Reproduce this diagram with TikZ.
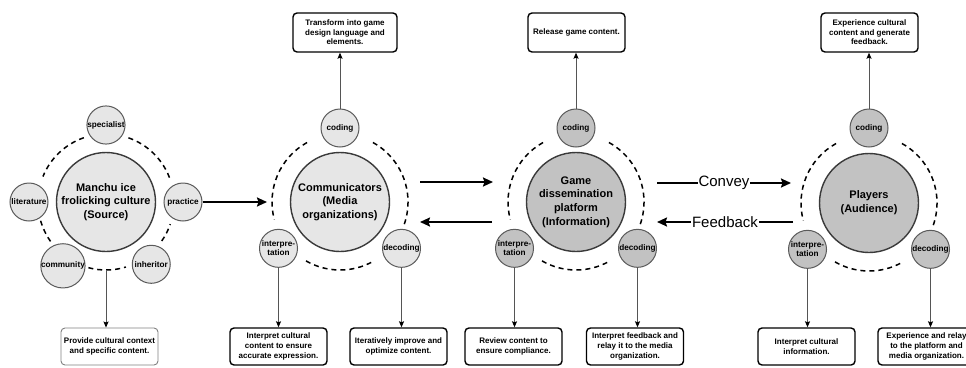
\documentclass[tikz,border=0pt]{standalone}
\usepackage{fontspec}
\setmainfont{Liberation Sans}
\usepackage{tikz}
\usetikzlibrary{arrows.meta,calc,positioning}
\definecolor{lightfill}{HTML}{E6E6E6}
\definecolor{darkfill}{HTML}{C2C2C2}
\definecolor{edgegray}{HTML}{3A3A3A}
\definecolor{satgray}{HTML}{5A5A5A}
\definecolor{linkgray}{HTML}{555555}
\tikzset{>={Stealth[length=10pt,width=9pt,inset=1.5pt]}}
\tikzstyle{core}=[
	 circle, draw=edgegray, line width=1.4pt,
	 minimum size=99pt, inner sep=0pt, align=center,
	 font=\fontsize{11}{13.8}\selectfont\bfseries
    ]
\tikzstyle{sat}=[
	 circle, draw=satgray, line width=1pt,
	 minimum size=38pt, inner sep=0pt, align=center,
	 font=\fontsize{8.2}{9.4}\selectfont\bfseries
    ]
\tikzstyle{note}=[
	 rectangle, rounded corners=4pt, draw, line width=1.4pt,
	 minimum width=97pt, minimum height=37pt, inner sep=1pt, align=center,
	 font=\fontsize{8}{9.6}\selectfont\bfseries
    ]
\tikzstyle{ring}=[dash pattern=on 5pt off 4pt, line width=1.5pt]
\tikzstyle{flow}=[->, line width=2pt]
\tikzstyle{link}=[-{Stealth[length=6pt,width=5pt,inset=1pt,color=black]}, draw=linkgray, line width=0.9pt]
\tikzstyle{lbl}=[fill=white, inner sep=1pt, font=\fontsize{15}{15}\selectfont]
\newcommand{\rArc}[3]{\draw[ring] (#1.center) ++(#2:68) arc[start angle=#2, end angle=#3, radius=68]}

\begin{document}
\begin{tikzpicture}[x=1pt,y=1pt]
\useasboundingbox (0,0) rectangle (966,-367);

\node[core,fill=lightfill] (c1) at (106,-202) {Manchu ice\\frolicking culture\\(Source)};
\node[core,fill=lightfill] (c2) at (340,-202) {Communicators\\(Media\\organizations)};
\node[core,fill=darkfill] (c3) at (576,-202) {Game\\dissemination\\platform\\(Information)};
\node[core,fill=darkfill] (c4) at (869,-203) {Players\\(Audience)};

\rArc{c1}{21}{71};
\rArc{c1}{109}{158};
\rArc{c1}{196}{217};
\rArc{c1}{255}{287};
\rArc{c1}{325}{341};
\foreach \c in {c2,c3,c4} {
  \rArc{\c}{119}{195};
  \rArc{\c}{240}{299};
  \rArc{\c}{341}{424};
}

\node[sat,fill=lightfill] (c1spe) at ([shift={(90:77)}]c1.center) {specialist};
\node[sat,fill=lightfill] (c1pra) at ([shift={(0:77)}]c1.center) {practice};
\node[sat,fill=lightfill] (c1lit) at ([shift={(180:77)}]c1.center) {literature};
\node[sat,fill=lightfill] (c1com) at ([shift={(236:77)}]c1.center) {community};
\node[sat,fill=lightfill] (c1inh) at ([shift={(306:77)}]c1.center) {inheritor};

\node[sat,fill=lightfill] (c2cod) at ([shift={(90:74)}]c2.center) {coding};
\node[sat,fill=lightfill] (c2int) at ([shift={(217:77)}]c2.center) {interpre-\\tation};
\node[sat,fill=lightfill] (c2dec) at ([shift={(323:77)}]c2.center) {decoding};
\node[sat,fill=darkfill] (c3cod) at ([shift={(90:74)}]c3.center) {coding};
\node[sat,fill=darkfill] (c3int) at ([shift={(217:77)}]c3.center) {interpre-\\tation};
\node[sat,fill=darkfill] (c3dec) at ([shift={(323:77)}]c3.center) {decoding};
\node[sat,fill=darkfill] (c4cod) at ([shift={(90:75)}]c4.center) {coding};
\node[sat,fill=darkfill] (c4int) at ([shift={(217:77)}]c4.center) {interpre-\\tation};
\node[sat,fill=darkfill] (c4dec) at ([shift={(323:77)}]c4.center) {decoding};

\node[note,minimum width=104pt,minimum height=39pt] (c2top) at (345,-32.5) {Transform into game\\design language and\\elements.};
\node[note,minimum height=39pt] (c3top) at (576.5,-32.5) {Release game content.};
\node[note,minimum height=39pt] (c4top) at (869.5,-32.5) {Experience cultural\\content and generate\\feedback.};

\node[note,draw=gray,line width=0.9pt] (c1box) at (109.5,-346.5) {Provide cultural context\\and specific content.};
\node[note] (c2bl) at (278.5,-346.5) {Interpret cultural\\content to ensure\\accurate expression.};
\node[note] (c2br) at (398.5,-346.5) {Iteratively improve and\\optimize content.};
\node[note] (c3bl) at (513.5,-346.5) {Review content to\\ensure compliance.};
\node[note] (c3br) at (635,-346.5) {Interpret feedback and\\relay it to the media\\organization.};
\node[note] (c4bl) at (806.5,-346.5) {Interpret cultural\\information.};
\node[note] (c4br) at (926.5,-346.5) {Experience and relay\\to the platform and\\media organization.};

\coordinate (c1s) at ([yshift=-68]c1.center);
\coordinate (c2w) at (267,-202);
\coordinate (c2o) at (420,-182);
\coordinate (c3i) at (493,-182);
\coordinate (c3o) at (492,-222);
\coordinate (c2i) at (420,-222);
\coordinate (c3e1) at (657,-183);
\coordinate (c4w1) at (791,-183);
\coordinate (c4w2) at (793,-222);
\coordinate (c3e2) at (657,-222);

\draw[flow] (c1pra) -- (c2w);
\draw[flow] (c2o) -- (c3i);
\draw[flow] (c3o) -- (c2i);
\draw[flow] (c3e1) -- node[lbl] (conv) {Convey} (c4w1);
\draw[flow] (c4w2) -- node[lbl] (feed) {Feedback} (c3e2);

\draw[link] (c1s) -- (c1s |- c1box.north);
\foreach \c in {c2,c3,c4} {
  \draw[link] (\c cod) -- (\c cod |- \c top.south);
}
\draw[link] (c2int) -- (c2int |- c2bl.north);
\draw[link] (c2dec) -- (c2dec |- c2br.north);
\draw[link] (c3int) -- (c3int |- c3bl.north);
\draw[link] (c3dec) -- (c3dec |- c3br.north);
\draw[link] (c4int) -- (c4int |- c4bl.north);
\draw[link] (c4dec) -- (c4dec |- c4br.north);

\end{tikzpicture}
\end{document}
